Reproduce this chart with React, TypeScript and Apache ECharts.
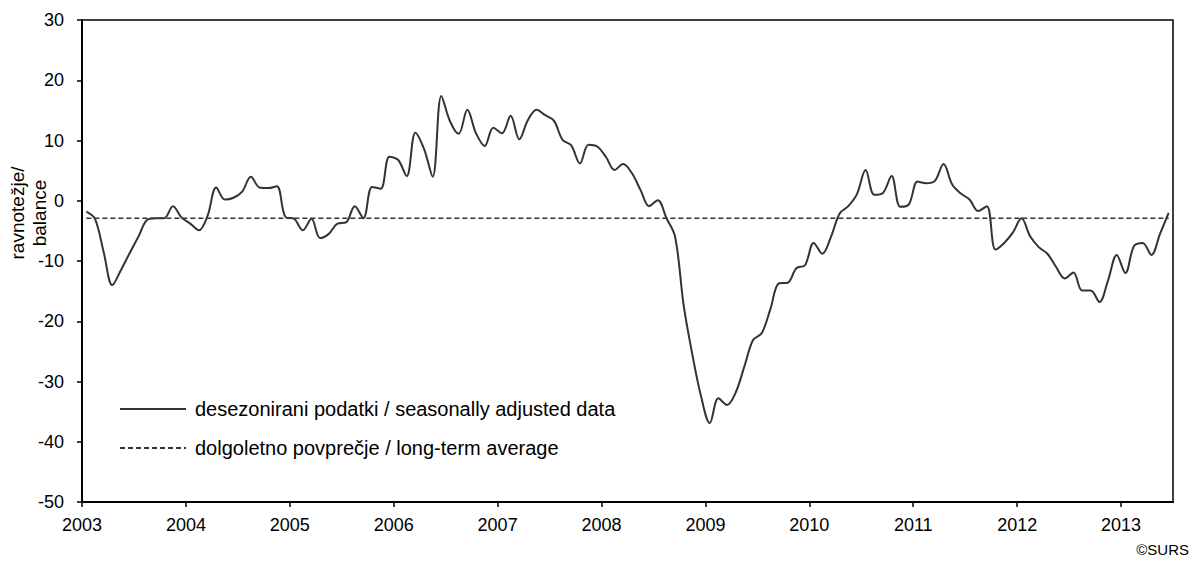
import React, { useEffect, useRef } from "react";
import * as echarts from "echarts";

// Monthly values, Jan 2003 – Jun 2013 (balance, seasonally adjusted)
const months: string[] = [];
for (let y = 2003; y <= 2013; y++) {
  for (let m = 1; m <= 12; m++) {
    if (y === 2013 && m > 6) break;
    months.push(`${y}-${String(m).padStart(2, "0")}`);
  }
}

const v2003 = [-1.8, -3.0, -8.5, -14.0, -11.5, -8.7, -6.0, -3.2, -2.9, -2.9, -0.9, -2.8];
const v2004 = [-3.8, -4.9, -2.5, 2.2, 0.2, 0.5, 1.5, 4.0, 2.2, 2.1, 2.4, -2.7];
const v2005 = [-3.0, -4.9, -3.0, -6.2, -5.5, -3.8, -3.6, -0.9, -2.9, 2.3, 2.0, 7.3];
const v2006 = [6.8, 4.1, 11.3, 8.6, 4.0, 17.4, 13.2, 11.1, 15.1, 11.2, 9.1, 12.1];
const v2007 = [11.2, 14.1, 10.2, 13.4, 15.1, 14.2, 13.3, 10.1, 9.2, 6.2, 9.3, 9.0];
const v2008 = [7.3, 5.1, 6.1, 4.6, 1.8, -0.9, 0.1, -2.9, -6.0, -17.5, -25.6, -32.5];
const v2009 = [-36.9, -32.8, -33.9, -31.8, -27.5, -23.1, -22.0, -18.0, -13.7, -13.6, -11.2, -10.7];
const v2010 = [-7.0, -8.8, -6.0, -2.1, -0.9, 1.1, 5.1, 1.0, 1.3, 4.1, -1.0, -0.6];
const v2011 = [3.2, 2.9, 3.3, 6.1, 2.7, 1.2, 0.2, -1.7, -0.9, -8.1, -7.0, -5.3];
const v2012 = [-2.9, -5.9, -7.7, -8.8, -11.0, -12.9, -11.9, -14.9, -14.9, -16.8, -13.2, -9.0];
const v2013 = [-12.0, -7.5, -7.0, -9.0, -5.5, -2.0];

const seasonallyAdjusted = [
  ...v2003, ...v2004, ...v2005, ...v2006, ...v2007, ...v2008,
  ...v2009, ...v2010, ...v2011, ...v2012, ...v2013,
];
const longTermAverage = -2.9;

const yTicks = [-50, -40, -30, -20, -10, 0, 10, 20, 30];
const firstYear = 2003;

const FONT = "'Liberation Sans', Arial, sans-serif";

export default function App() {
  const ref = useRef<HTMLDivElement>(null);

  useEffect(() => {
    document.body.style.margin = "0";
    if (!ref.current) return;
    const chart = echarts.init(ref.current, null, { renderer: "svg" });

    const mainData = seasonallyAdjusted.map((v, i) => [i + 0.5, v]);
    const avgData = months.map((_, i) => [i + 0.5, longTermAverage]);
    const nMonths = months.length;

    chart.setOption({
      animation: false,
      backgroundColor: "#ffffff",
      textStyle: { fontFamily: FONT },
      grid: {
        left: 82,
        right: 18,
        top: 20,
        bottom: 61,
        show: true,
        borderColor: "#000",
        borderWidth: 1.5,
        backgroundColor: "transparent",
      },
      legend: {
        orient: "vertical",
        left: 114,
        top: 394,
        itemWidth: 66,
        itemHeight: 14,
        itemGap: 19,
        itemStyle: { opacity: 0 },
        textStyle: {
          fontFamily: FONT,
          fontSize: 20,
          color: "#000",
          padding: [0, 0, 0, 4],
        },
        data: [
          { name: "desezonirani podatki / seasonally adjusted data" },
          { name: "dolgoletno povprečje / long-term average" },
        ],
      },
      xAxis: {
        type: "value",
        min: 0,
        max: nMonths,
        interval: 12,
        axisLine: { show: true, onZero: false, lineStyle: { color: "#000", width: 2 } },
        axisTick: { show: true, inside: false, length: 5, lineStyle: { color: "#000", width: 1.5 } },
        splitLine: { show: false },
        axisLabel: {
          fontFamily: FONT,
          fontSize: 18,
          color: "#000",
          margin: 14,
          showMaxLabel: false,
          formatter: (v: number) => (v % 12 === 0 ? String(firstYear + v / 12) : ""),
        },
      },
      yAxis: {
        type: "value",
        min: yTicks[0],
        max: yTicks[yTicks.length - 1],
        interval: 10,
        axisLine: { show: true, onZero: false, lineStyle: { color: "#000", width: 2 } },
        axisTick: { show: true, inside: false, length: 5, lineStyle: { color: "#000", width: 1.5 } },
        splitLine: { show: false },
        axisLabel: {
          fontFamily: FONT,
          fontSize: 18,
          color: "#000",
          margin: 18,
        },
      },
      series: [
        {
          name: "desezonirani podatki / seasonally adjusted data",
          type: "line",
          data: mainData,
          smooth: 0.35,
          symbol: "none",
          lineStyle: { color: "#333", width: 2 },
          itemStyle: { color: "#333" },
          z: 3,
        },
        {
          name: "dolgoletno povprečje / long-term average",
          type: "line",
          data: avgData,
          symbol: "none",
          lineStyle: { color: "#333", width: 1.6, type: [5, 3] },
          itemStyle: { color: "#333" },
          z: 2,
        },
      ],
      graphic: [
        {
          type: "text",
          x: 28,
          y: 213,
          rotation: Math.PI / 2,
          style: {
            text: "ravnotežje/\nbalance",
            fontFamily: FONT,
            fontSize: 19,
            lineHeight: 22,
            fill: "#000",
            align: "center",
            verticalAlign: "middle",
          },
        },
        {
          type: "text",
          right: 2,
          top: 542,
          style: {
            text: "©SURS",
            fontFamily: FONT,
            fontSize: 15,
            fill: "#000",
          },
        },
      ],
    });

    return () => chart.dispose();
  }, []);

  return <div ref={ref} style={{ width: 1191, height: 563 }} />;
}
